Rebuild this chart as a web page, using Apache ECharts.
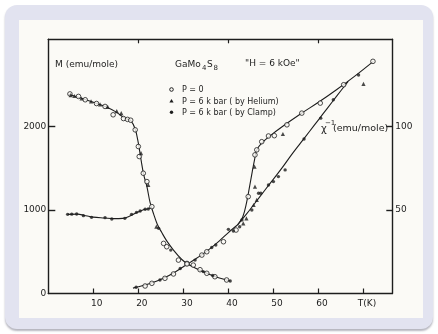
<!DOCTYPE html>
<html><head><meta charset="utf-8">
<script src="https://cdn.jsdelivr.net/npm/echarts@6/dist/echarts.min.js"></script>
<style>
html,body{margin:0;padding:0;background:#ffffff;width:438px;height:334px;overflow:hidden}
#frame{position:absolute;left:5px;top:5px;width:428px;height:324px;background:#e2e3f0;border-radius:12px;box-shadow:0 2px 2px rgba(90,90,110,0.45)}
#paper{position:absolute;left:19px;top:20px;width:404px;height:298px;background:#fbfaf6}
#chart{position:absolute;left:0;top:0;width:438px;height:334px}
</style></head>
<body>
<div id="frame"></div><div id="paper"></div><div id="chart"></div>
<script>
// ---- data (T in K; M in emu/mole; chi^-1 in emu/mole) ----
var xTicks = [10, 20, 30, 40, 50, 60, 70];
var xTopTicks = [20, 40, 60];
var mTicks = [0, 1000, 2000];
var rTicks = [50, 100];

// hand-drawn curves
var curveM_upper = [[4.5,2385],[7,2345],[10,2290],[13,2230],[15,2175],[17,2100],[18.3,2070],[19.3,1970],[20,1800],[20.6,1600],[21.2,1420],[21.9,1280],[22.6,1090],[23.4,950],[24.2,830],[25.2,730],[26.3,630],[27.8,520],[29.6,410],[30.8,360],[32.3,315],[34,272],[36,225],[38,185],[40.4,150]];
var curveM_lower = [[4.3,948],[6.5,950],[8,935],[10,915],[12.5,905],[14.5,897],[16.5,900],[18,925],[19.5,965],[21,1000],[22.2,1015],[22.9,1030]];
var curveR_low = [[18.8,3.2],[20,4],[22,5.5],[24,7.3],[26,9.7],[28,12.6],[30,16],[31,17.7],[32,19.5],[34,23],[36,27],[38,31.5],[40,36.5],[42,41]];
var curveR_p0 = [[42,41],[43.2,46],[44,54],[44.7,64],[45.3,73],[45.8,80],[46.3,86],[47.4,90],[49.3,94.5],[52,100],[56,107.5],[60,114.5],[64,122],[68,130],[72.2,139]];
var curveR_clamp = [[42,41],[44,47.5],[46,54.5],[48,61.5],[50,68.5],[52,75.5],[54,83],[56,90],[58,97],[60,104],[62,111],[64,118],[66.6,127]];

// measured points
var mP0 = [[4.8,2390],[6.7,2360],[8.2,2320],[10.7,2275],[12.6,2240],[14.4,2140],[16.7,2095],[17.6,2085],[18.3,2075],[19.3,1960],[20.0,1760],[20.2,1640],[21.1,1440],[21.9,1340],[23.0,1040],[25.6,600],[26.3,560],[28.9,400],[30.8,360],[32.2,340],[33.7,285],[35.2,242],[37.0,201],[39.6,162]];
var mHelium = [[5.0,2375],[5.8,2365],[7.4,2335],[9.5,2300],[11.5,2265],[13.2,2235],[15.2,2185],[16.2,2160],[20.6,1680],[22.2,1300],[24.0,800]];
var mClamp = [[4.3,948],[5.2,950],[6.3,952],[7.8,932],[9.6,912],[12.6,908],[14.1,892],[17,900],[18.5,948],[19.6,972],[20.4,988],[21.5,1008],[22.2,1012],[24.5,780],[27.2,520],[34.4,262],[36.5,215],[40.4,150]];
var rP0 = [[21.5,4.5],[23,6.1],[25.9,9.1],[27.8,11.7],[30.8,17.7],[34.1,23],[35.2,25],[38.9,31],[41.7,38],[44.4,58],[45.9,83],[46.3,86],[47.4,90.9],[48.9,94.3],[50.2,94.5],[53,101],[56.3,108],[60.4,114],[65.6,125],[72.1,139]];
var rClamp = [[19.5,3.7],[24.8,8.1],[29.3,15],[32.6,20],[36.3,27.5],[37.2,29],[40,38.4],[41.1,37.4],[42.5,40],[43,44],[45.2,50],[46.7,60],[47.2,60],[48.9,65],[50,67],[51.1,70],[52.6,74],[56.8,92.5],[60.5,105],[63.3,116],[68.9,130.8]];
var rHelium = [[43.3,42],[44,45],[45.6,53],[45.9,64],[45.8,76],[46.3,56],[52.1,95.5],[70,125.5]];

var INK = '#1d1d1d', PAPER = '#fbfaf6', FONT = 'DejaVu Sans';
var chart = echarts.init(document.getElementById('chart'), null, {width:438, height:334, renderer:'canvas'});

function curve(d, yi){ return {type:'line', data:d, yAxisIndex:yi, smooth:0.35, showSymbol:false, silent:true,
  lineStyle:{color:INK, width:1.1}, z:2}; }
function pts(d, yi, kind){
  var s = {type:'scatter', data:d, yAxisIndex:yi, silent:true, z:3};
  if(kind==='open'){ s.symbol='circle'; s.symbolSize=4.6; s.itemStyle={color:PAPER, borderColor:INK, borderWidth:1}; }
  else if(kind==='tri'){ s.symbol='triangle'; s.symbolSize=4.2; s.itemStyle={color:INK}; }
  else { s.symbol='circle'; s.symbolSize=3.4; s.itemStyle={color:INK}; }
  return s;
}
function txt(x,y,t,size,align){ return {type:'text', x:x, y:y, silent:true, style:{text:t, font:(size||9)+'px '+FONT, fill:INK, verticalAlign:'middle', align:align||'left'}}; }

var axLine = {show:true, onZero:false, lineStyle:{color:INK, width:1.4}};
var option = {
  animation:false,
  grid:{left:48.3, top:39.3, right:45.7, bottom:40.5},
  xAxis:[
    {type:'value', min:0, max:76.4, position:'bottom', axisLine:axLine, splitLine:{show:false},
     axisTick:{show:true, inside:true, length:5, lineStyle:{color:INK, width:1.2}, customValues:xTicks},
     axisLabel:{color:INK, fontSize:9, fontFamily:FONT, margin:6, padding:[0,0,0,7], customValues:xTicks,
       formatter:function(v){ return v===70 ? 'T(K)' : String(v); }}},
    {type:'value', min:0, max:76.4, position:'top', axisLine:axLine, splitLine:{show:false},
     axisTick:{show:true, inside:true, length:4, lineStyle:{color:INK, width:1.2}, customValues:xTopTicks},
     axisLabel:{show:false}}
  ],
  yAxis:[
    {type:'value', min:0, max:3044, position:'left', axisLine:axLine, splitLine:{show:false},
     axisTick:{show:true, inside:true, length:7, lineStyle:{color:INK, width:1.4}, customValues:[1000,2000]},
     axisLabel:{color:INK, fontSize:9, fontFamily:FONT, margin:2, customValues:mTicks, formatter:function(v){return String(v);}}},
    {type:'value', min:0, max:152.2, position:'right', axisLine:axLine, splitLine:{show:false},
     axisTick:{show:true, inside:true, length:6, lineStyle:{color:INK, width:1.4}, customValues:rTicks},
     axisLabel:{color:INK, fontSize:9, fontFamily:FONT, margin:3, customValues:rTicks, formatter:function(v){return String(v);}}}
  ],
  series:[
    curve(curveM_upper,0), curve(curveM_lower,0), curve(curveR_low,1), curve(curveR_p0,1), curve(curveR_clamp,1),
    pts(mP0,0,'open'), pts(mHelium,0,'tri'), pts(mClamp,0,'dot'),
    pts(rP0,1,'open'), pts(rClamp,1,'dot'), pts(rHelium,1,'tri')
  ],
  graphic:[
    txt(55,65,'M (emu/mole)',9),
    txt(175,65,'GaMo',9), txt(202,68,'4',7), txt(207,65,'S',9), txt(213.5,68,'8',7),
    txt(245,64,'"H = 6 kOe"',9),
    {type:'circle', silent:true, shape:{cx:171.5, cy:89.5, r:1.8}, style:{fill:PAPER, stroke:INK, lineWidth:1}},
    {type:'polygon', silent:true, shape:{points:[[171.5,99],[173.6,102.4],[169.4,102.4]]}, style:{fill:INK}},
    {type:'circle', silent:true, shape:{cx:171.5, cy:112.3, r:1.7}, style:{fill:INK}},
    txt(182,90,'P = 0',8),
    txt(182,101.5,'P = 6 k bar ( by Helium)',8),
    txt(182,113,'P = 6 k bar ( by Clamp)',8),
    txt(321,129,'\u03C7',10), txt(325,123,'\u22121',7), txt(333,129,'(emu/mole)',9.5)
  ]
};
chart.setOption(option);
</script>
</body></html>
